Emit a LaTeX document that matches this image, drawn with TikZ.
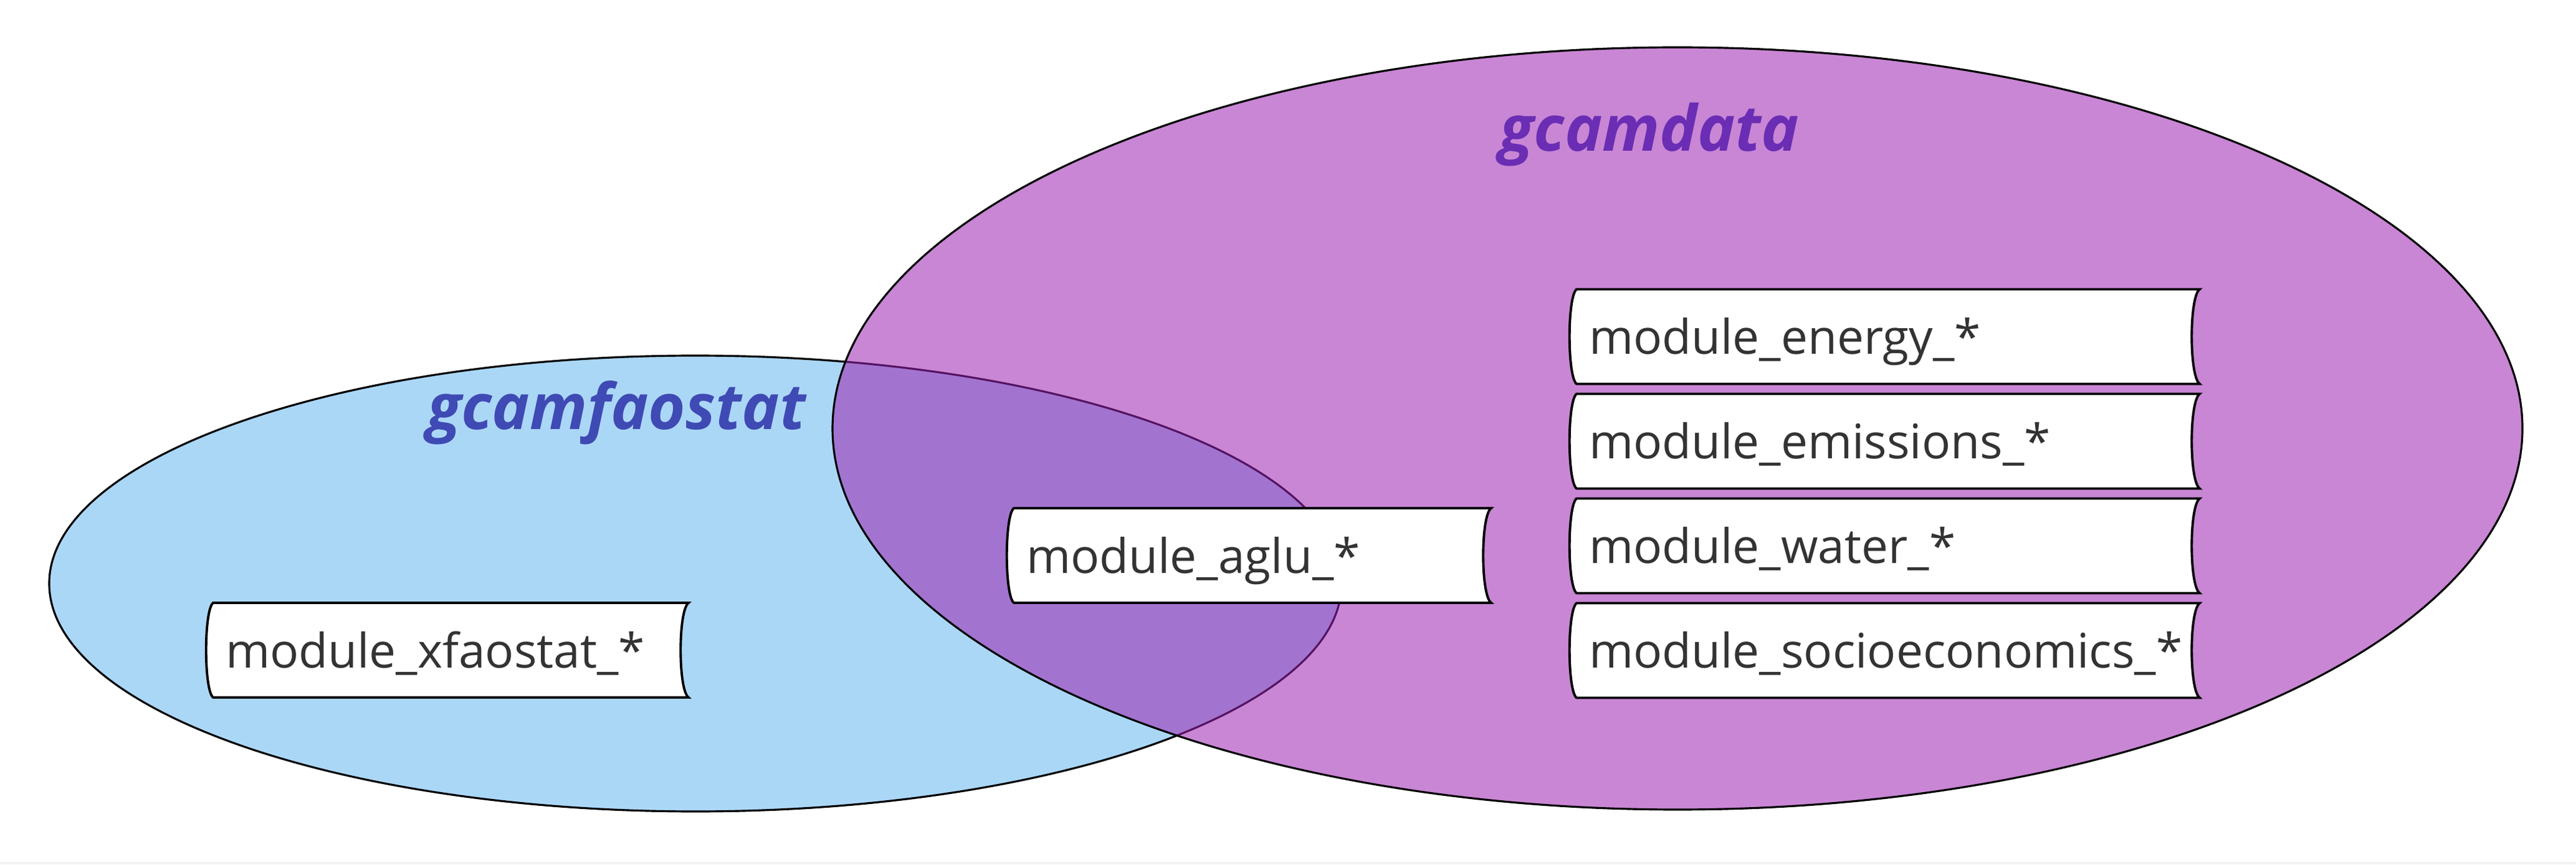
\documentclass[tikz,border=0pt]{standalone}
\usepackage{fontspec}
\setmainfont{Open Sans}
\usepackage{xcolor}
\usetikzlibrary{calc, positioning}
\definecolor{faoblue}{HTML}{ABD7F7}
\definecolor{datapurple}{HTML}{9B23B1}
\definecolor{faotext}{HTML}{3F4AB4}
\definecolor{datatext}{HTML}{6A2DB4}
\definecolor{modtext}{HTML}{333333}
\pgfdeclarelayer{venn}
\pgfdeclarelayer{boxes}
\pgfsetlayers{venn,boxes,main}
\tikzset{pkg label/.style={font=\fontsize{29}{36}\selectfont\bfseries\itshape, anchor=base},
%text width is the inside of the box, 0.2cm padding each side
mod box/.style={text width=#1, inner xsep=0.2cm, inner ysep=0.28cm, outer sep=0pt, align=left,
  text height=0.76cm, text depth=0.2cm, font=\fontsize{21.8}{26}\selectfont, text=modtext},
mod box/.default={9.6cm}}
%scroll outline around a module node
\newcommand{\modoutline}[1]{%
 \draw[fill=white, line width=1.1pt] (#1.north west) -- (#1.north east)
   .. controls ($(#1.north east)+(-0.17,-0.12)$) and ($(#1.south east)+(-0.17,0.12)$) .. (#1.south east)
   -- (#1.south west)
   .. controls ($(#1.south west)+(-0.15,0.12)$) and ($(#1.north west)+(-0.15,-0.12)$) .. cycle;}

\begin{document}
\begin{tikzpicture}
  \useasboundingbox (0,0) rectangle (41.34,13.88);
  \fill[gray!10] (0,0) rectangle (41.34,0.04);

%DRAWING PACKAGES
  \begin{pgfonlayer}{venn}
  \draw[fill=faoblue, line width=0.9pt] (11.16,4.51) ellipse [x radius=10.37, y radius=3.66];
  \draw[fill=datapurple, fill opacity=0.55, line width=0.9pt] (26.92,7.00) ellipse [x radius=13.56, y radius=6.12];
  \end{pgfonlayer}

  \node[pkg label, text=faotext] (faolabel) at (9.89,6.98) {gcamfaostat};
  \node[pkg label, text=datatext] (datalabel) at (26.47,11.45) {gcamdata};

%DRAWING MODULES
  \node[mod box] (energy) at (30.30,8.475) {module\_energy\_*};
  \node[mod box] (emissions) [below=0.16cm of energy] {module\_emissions\_*};
  \node[mod box] (water) [below=0.16cm of emissions] {module\_water\_*};
  \node[mod box] (socio) [below=0.16cm of water] {module\_socioeconomics\_*};

  \node[mod box=7.26cm] (aglu) at (20.10,4.96) {module\_aglu\_*};
  \node[mod box=7.23cm] (xfaostat) at (7.235,3.44) {module\_xfaostat\_*};

  \begin{pgfonlayer}{boxes}
  \modoutline{energy}
  \modoutline{emissions}
  \modoutline{water}
  \modoutline{socio}
  \modoutline{aglu}
  \modoutline{xfaostat}
  \end{pgfonlayer}

\end{tikzpicture}
\end{document}
